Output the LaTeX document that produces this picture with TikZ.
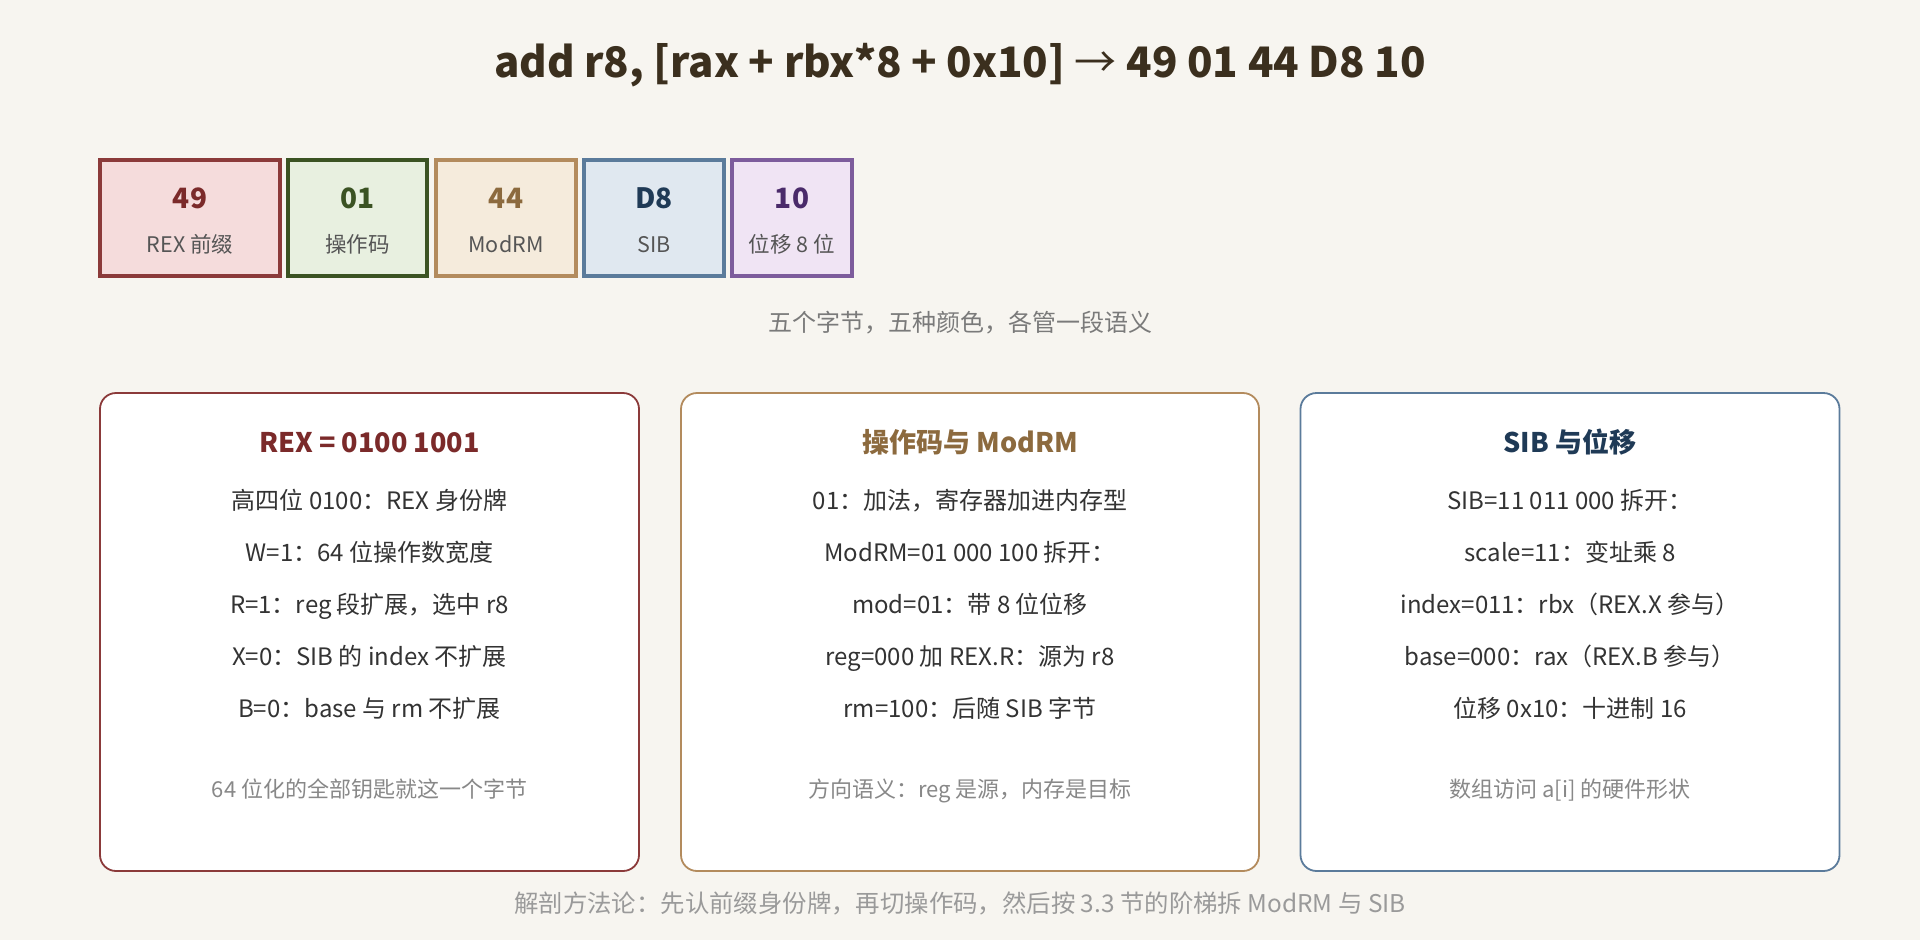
\documentclass[tikz,border=0pt]{standalone}
\usepackage{fontspec}
\setmainfont{Noto Sans CJK SC}
\definecolor{bg}{HTML}{F7F5F0}
\definecolor{titleC}{HTML}{3B2F1E}
\definecolor{rexB}{HTML}{8B3A3A}\definecolor{rexF}{HTML}{F5DCDC}\definecolor{rexT}{HTML}{7B2A2A}
\definecolor{opB}{HTML}{3B5323}\definecolor{opF}{HTML}{E8F0E0}\definecolor{opT}{HTML}{3B5323}
\definecolor{mrB}{HTML}{B38B5D}\definecolor{mrF}{HTML}{F5EBDC}\definecolor{mrT}{HTML}{8C6A3E}
\definecolor{sibB}{HTML}{5B7B9B}\definecolor{sibF}{HTML}{E0E8F0}\definecolor{sibT}{HTML}{1F3A56}
\definecolor{dispB}{HTML}{7D5C9C}\definecolor{dispF}{HTML}{F0E4F4}\definecolor{dispT}{HTML}{4A2A6A}
\definecolor{bodyC}{HTML}{333333}
\definecolor{noteC}{HTML}{888888}
\definecolor{subC}{HTML}{7A7A7A}
\definecolor{capC}{HTML}{9A9A9A}
\definecolor{lblC}{HTML}{555555}
\begin{document}
\begin{tikzpicture}[x=1pt,y=-1pt,
  bytebox/.style={draw, line width=4pt, inner sep=0pt, minimum height=116pt},
  byteval/.style={anchor=base, inner sep=0pt, font=\fontsize{28}{32}\selectfont\bfseries},
  bytelbl/.style={anchor=base, inner sep=0pt, text=lblC, font=\fontsize{21.5}{25}\selectfont},
  panel/.style={draw, line width=1.8pt, fill=white, rounded corners=16pt, inner sep=0pt, minimum width=539pt, minimum height=478pt},
  ptitle/.style={anchor=base, inner sep=0pt, font=\fontsize{27}{32}\selectfont\bfseries},
  pline/.style={anchor=base, inner sep=0pt, text=bodyC, font=\fontsize{24}{28}\selectfont},
  pnote/.style={anchor=base, inner sep=0pt, text=noteC, font=\fontsize{22}{26}\selectfont}
]
\fill[bg] (0,0) rectangle (1920,940);
\useasboundingbox (0,0) rectangle (1920,940);

% title
\node[anchor=base, inner sep=0pt, text=titleC, font=\fontsize{42}{48}\selectfont\bfseries] (title) at (960,77) {add r8, [rax + rbx*8 + 0x10] {\mdseries →} 49 01 44 D8 10};

% byte boxes
\node[bytebox, draw=rexB, fill=rexF, minimum width=180pt] (b1) at (190,218) {};
\node[bytebox, draw=opB, fill=opF, minimum width=139pt] (b2) at (357.5,218) {};
\node[bytebox, draw=mrB, fill=mrF, minimum width=140pt] (b3) at (506,218) {};
\node[bytebox, draw=sibB, fill=sibF, minimum width=140pt] (b4) at (654,218) {};
\node[bytebox, draw=dispB, fill=dispF, minimum width=120pt] (b5) at (792,218) {};

\node[byteval, text=rexT] (v1) at (190,208) {49};
\node[byteval, text=opT] (v2) at (357.5,208) {01};
\node[byteval, text=mrT] (v3) at (506,208) {44};
\node[byteval, text=sibT] (v4) at (654,208) {D8};
\node[byteval, text=dispT] (v5) at (792,208) {10};

\node[bytelbl] (l1) at (190,252) {REX 前缀};
\node[bytelbl] (l2) at (357.5,252) {操作码};
\node[bytelbl] (l3) at (506,252) {ModRM};
\node[bytelbl] (l4) at (654,252) {SIB};
\node[bytelbl] (l5) at (792,252) {位移 8 位};

\node[anchor=base, inner sep=0pt, text=subC, font=\fontsize{24}{28}\selectfont] (sub) at (960,331) {五个字节，五种颜色，各管一段语义};

% panels
\node[panel, draw=rexB] (p1) at (369.5,632) {};
\node[panel, draw=mrB, minimum width=578pt] (p2) at (970,632) {};
\node[panel, draw=sibB] (p3) at (1570,632) {};

% panel 1
\node[ptitle, text=rexT] (p1t) at (369.5,452) {REX = 0100 1001};
\node[pline] (p1a) at (369.5,509) {高四位 0100：REX 身份牌};
\node[pline] (p1b) at (369.5,561) {W=1：64 位操作数宽度};
\node[pline] (p1c) at (369.5,613) {R=1：reg 段扩展，选中 r8};
\node[pline] (p1d) at (369.5,665) {X=0：SIB 的 index 不扩展};
\node[pline] (p1e) at (369.5,717) {B=0：base 与 rm 不扩展};
\node[pnote] (p1n) at (369.5,797) {64 位化的全部钥匙就这一个字节};

% panel 2
\node[ptitle, text=mrT] (p2t) at (970,452) {操作码与 ModRM};
\node[pline] (p2a) at (970,509) {01：加法，寄存器加进内存型};
\node[pline] (p2b) at (970,561) {ModRM=01 000 100 拆开：};
\node[pline] (p2c) at (970,613) {mod=01：带 8 位位移};
\node[pline] (p2d) at (970,665) {reg=000 加 REX.R：源为 r8};
\node[pline] (p2e) at (970,717) {rm=100：后随 SIB 字节};
\node[pnote] (p2n) at (970,797) {方向语义：reg 是源，内存是目标};

% panel 3
\node[ptitle, text=sibT] (p3t) at (1570,452) {SIB 与位移};
\node[pline] (p3a) at (1570,509) {SIB=11 011 000 拆开：};
\node[pline] (p3b) at (1570,561) {scale=11：变址乘 8};
\node[pline] (p3c) at (1570,613) {index=011：rbx（REX.X 参与）};
\node[pline] (p3d) at (1570,665) {base=000：rax（REX.B 参与）};
\node[pline] (p3e) at (1570,717) {位移 0x10：十进制 16};
\node[pnote] (p3n) at (1570,797) {数组访问 a[i] 的硬件形状};

% caption
\node[anchor=base, inner sep=0pt, text=capC, font=\fontsize{24.4}{28}\selectfont] (cap) at (960,912) {解剖方法论：先认前缀身份牌，再切操作码，然后按 3.3 节的阶梯拆 ModRM 与 SIB};
\end{tikzpicture}
\end{document}
